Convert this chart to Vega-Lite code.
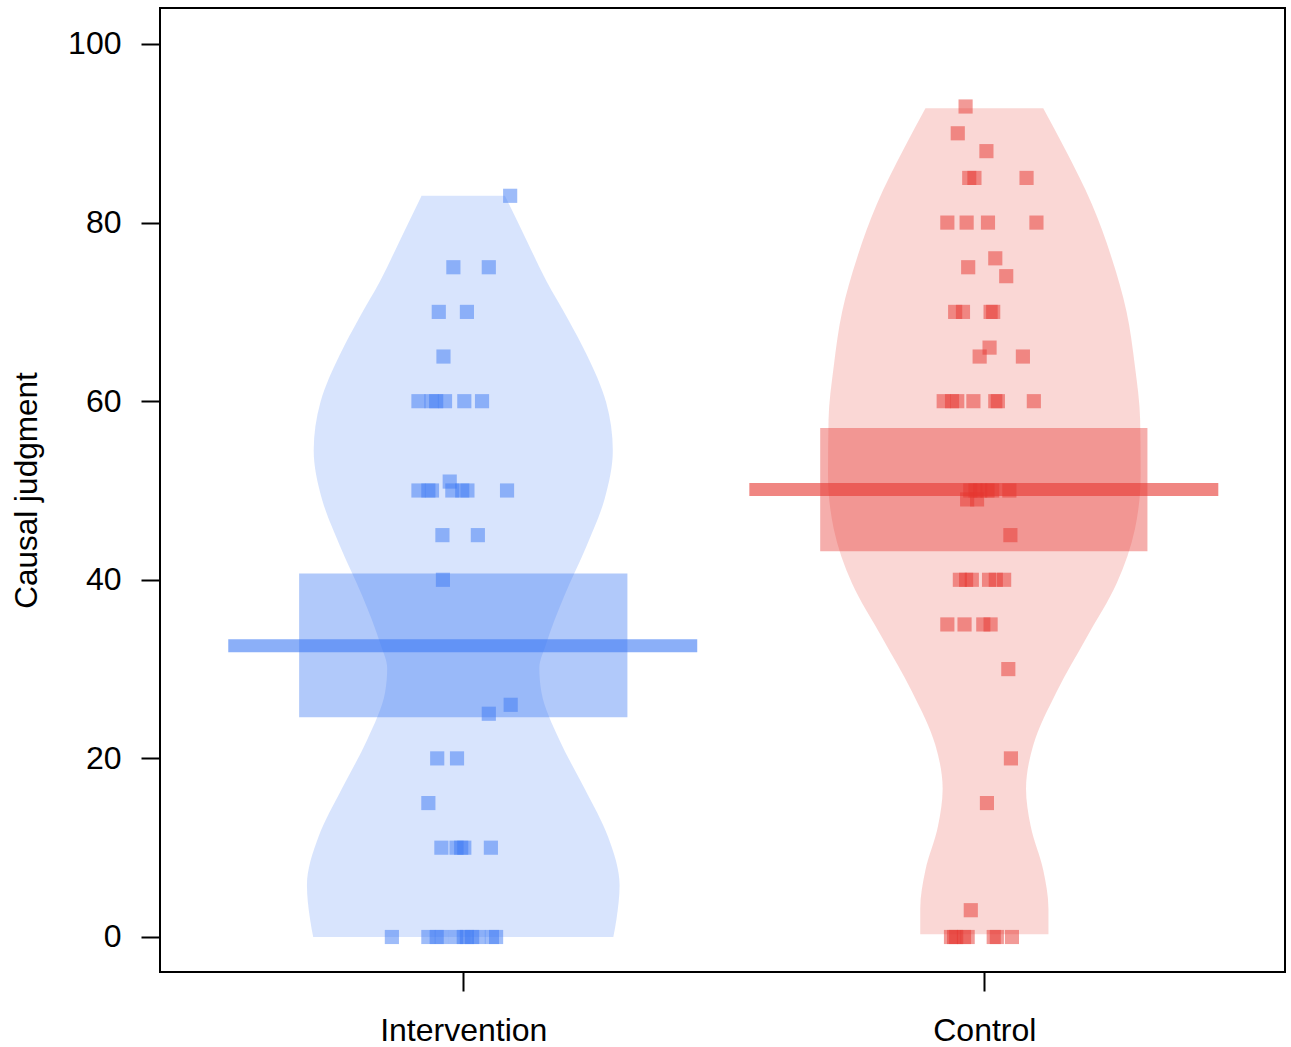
{
  "$schema": "https://vega.github.io/schema/vega-lite/v6.json",
  "width": 1125,
  "height": 964,
  "autosize": {"type": "none"},
  "padding": {"left": 160, "top": 8, "right": 6, "bottom": 75},
  "background": "white",
  "config": {
    "view": {"stroke": "black", "strokeWidth": 2},
    "axis": {
      "labelFont": "Liberation Sans",
      "titleFont": "Liberation Sans",
      "labelFontSize": 32,
      "titleFontSize": 31.5,
      "labelColor": "black",
      "titleColor": "black",
      "titleFontWeight": "normal",
      "grid": false,
      "domain": false,
      "tickColor": "black",
      "tickWidth": 2,
      "tickSize": 19
    }
  },
  "datasets": {
    "violin": [
      {"group": "Intervention", "y": 0, "xl": 0.712, "xr": 1.288},
      {"group": "Intervention", "y": 2, "xl": 0.706, "xr": 1.294},
      {"group": "Intervention", "y": 5.8, "xl": 0.700, "xr": 1.300},
      {"group": "Intervention", "y": 11.2, "xl": 0.722, "xr": 1.278},
      {"group": "Intervention", "y": 16.6, "xl": 0.767, "xr": 1.233},
      {"group": "Intervention", "y": 22, "xl": 0.815, "xr": 1.185},
      {"group": "Intervention", "y": 27.4, "xl": 0.850, "xr": 1.150},
      {"group": "Intervention", "y": 30.1, "xl": 0.854, "xr": 1.146},
      {"group": "Intervention", "y": 32.8, "xl": 0.841, "xr": 1.159},
      {"group": "Intervention", "y": 38.2, "xl": 0.806, "xr": 1.194},
      {"group": "Intervention", "y": 43.7, "xl": 0.764, "xr": 1.236},
      {"group": "Intervention", "y": 49, "xl": 0.729, "xr": 1.271},
      {"group": "Intervention", "y": 54.5, "xl": 0.713, "xr": 1.287},
      {"group": "Intervention", "y": 59.9, "xl": 0.726, "xr": 1.274},
      {"group": "Intervention", "y": 65.3, "xl": 0.764, "xr": 1.236},
      {"group": "Intervention", "y": 69.3, "xl": 0.800, "xr": 1.200},
      {"group": "Intervention", "y": 73.4, "xl": 0.840, "xr": 1.160},
      {"group": "Intervention", "y": 78.2, "xl": 0.880, "xr": 1.120},
      {"group": "Intervention", "y": 83, "xl": 0.920, "xr": 1.080},
      {"group": "Control", "y": 0.3, "xl": 1.877, "xr": 2.123},
      {"group": "Control", "y": 3.2, "xl": 1.877, "xr": 2.123},
      {"group": "Control", "y": 7.5, "xl": 1.887, "xr": 2.113},
      {"group": "Control", "y": 12.4, "xl": 1.911, "xr": 2.089},
      {"group": "Control", "y": 16.6, "xl": 1.920, "xr": 2.080},
      {"group": "Control", "y": 21.5, "xl": 1.906, "xr": 2.094},
      {"group": "Control", "y": 27.5, "xl": 1.861, "xr": 2.139},
      {"group": "Control", "y": 33.5, "xl": 1.804, "xr": 2.196},
      {"group": "Control", "y": 39.6, "xl": 1.746, "xr": 2.254},
      {"group": "Control", "y": 45.7, "xl": 1.711, "xr": 2.289},
      {"group": "Control", "y": 51.8, "xl": 1.700, "xr": 2.300},
      {"group": "Control", "y": 57.9, "xl": 1.701, "xr": 2.299},
      {"group": "Control", "y": 63.9, "xl": 1.711, "xr": 2.289},
      {"group": "Control", "y": 70, "xl": 1.727, "xr": 2.273},
      {"group": "Control", "y": 76.1, "xl": 1.756, "xr": 2.244},
      {"group": "Control", "y": 82.1, "xl": 1.794, "xr": 2.206},
      {"group": "Control", "y": 88.2, "xl": 1.845, "xr": 2.155},
      {"group": "Control", "y": 92.8, "xl": 1.887, "xr": 2.113}
    ],
    "band": [
      {"group": "Intervention", "xl": 0.685, "xr": 1.315, "lo": 24.6, "hi": 40.7},
      {"group": "Control", "xl": 1.685, "xr": 2.313, "lo": 43.2, "hi": 57.0}
    ],
    "means": [
      {"group": "Intervention", "xl": 0.549, "xr": 1.449, "mean": 32.6},
      {"group": "Control", "xl": 1.549, "xr": 2.449, "mean": 50.1}
    ],
    "points": [
      {"group": "Intervention", "x": 1.090, "value": 83},
      {"group": "Intervention", "x": 0.981, "value": 75},
      {"group": "Intervention", "x": 1.049, "value": 75},
      {"group": "Intervention", "x": 0.953, "value": 70},
      {"group": "Intervention", "x": 1.007, "value": 70},
      {"group": "Intervention", "x": 0.962, "value": 65},
      {"group": "Intervention", "x": 0.914, "value": 60},
      {"group": "Intervention", "x": 0.939, "value": 60},
      {"group": "Intervention", "x": 0.948, "value": 60},
      {"group": "Intervention", "x": 0.965, "value": 60},
      {"group": "Intervention", "x": 1.002, "value": 60},
      {"group": "Intervention", "x": 1.036, "value": 60},
      {"group": "Intervention", "x": 0.974, "value": 51},
      {"group": "Intervention", "x": 0.914, "value": 50},
      {"group": "Intervention", "x": 0.933, "value": 50},
      {"group": "Intervention", "x": 0.940, "value": 50},
      {"group": "Intervention", "x": 0.979, "value": 50},
      {"group": "Intervention", "x": 0.998, "value": 50},
      {"group": "Intervention", "x": 1.008, "value": 50},
      {"group": "Intervention", "x": 1.084, "value": 50},
      {"group": "Intervention", "x": 0.960, "value": 45},
      {"group": "Intervention", "x": 1.028, "value": 45},
      {"group": "Intervention", "x": 0.961, "value": 40},
      {"group": "Intervention", "x": 1.091, "value": 26},
      {"group": "Intervention", "x": 1.049, "value": 25},
      {"group": "Intervention", "x": 0.950, "value": 20},
      {"group": "Intervention", "x": 0.988, "value": 20},
      {"group": "Intervention", "x": 0.933, "value": 15},
      {"group": "Intervention", "x": 0.958, "value": 10},
      {"group": "Intervention", "x": 0.987, "value": 10},
      {"group": "Intervention", "x": 0.996, "value": 10},
      {"group": "Intervention", "x": 1.002, "value": 10},
      {"group": "Intervention", "x": 1.053, "value": 10},
      {"group": "Intervention", "x": 0.863, "value": 0},
      {"group": "Intervention", "x": 0.933, "value": 0},
      {"group": "Intervention", "x": 0.949, "value": 0},
      {"group": "Intervention", "x": 0.959, "value": 0},
      {"group": "Intervention", "x": 0.986, "value": 0},
      {"group": "Intervention", "x": 1.001, "value": 0},
      {"group": "Intervention", "x": 1.007, "value": 0},
      {"group": "Intervention", "x": 1.017, "value": 0},
      {"group": "Intervention", "x": 1.029, "value": 0},
      {"group": "Intervention", "x": 1.055, "value": 0},
      {"group": "Intervention", "x": 1.063, "value": 0},
      {"group": "Control", "x": 1.964, "value": 93},
      {"group": "Control", "x": 1.949, "value": 90},
      {"group": "Control", "x": 2.004, "value": 88},
      {"group": "Control", "x": 1.971, "value": 85},
      {"group": "Control", "x": 1.981, "value": 85},
      {"group": "Control", "x": 2.081, "value": 85},
      {"group": "Control", "x": 1.929, "value": 80},
      {"group": "Control", "x": 1.966, "value": 80},
      {"group": "Control", "x": 2.007, "value": 80},
      {"group": "Control", "x": 2.100, "value": 80},
      {"group": "Control", "x": 2.021, "value": 76},
      {"group": "Control", "x": 1.969, "value": 75},
      {"group": "Control", "x": 2.042, "value": 74},
      {"group": "Control", "x": 1.944, "value": 70},
      {"group": "Control", "x": 1.959, "value": 70},
      {"group": "Control", "x": 2.012, "value": 70},
      {"group": "Control", "x": 2.017, "value": 70},
      {"group": "Control", "x": 2.010, "value": 66},
      {"group": "Control", "x": 1.991, "value": 65},
      {"group": "Control", "x": 2.074, "value": 65},
      {"group": "Control", "x": 1.922, "value": 60},
      {"group": "Control", "x": 1.938, "value": 60},
      {"group": "Control", "x": 1.948, "value": 60},
      {"group": "Control", "x": 1.979, "value": 60},
      {"group": "Control", "x": 2.021, "value": 60},
      {"group": "Control", "x": 2.026, "value": 60},
      {"group": "Control", "x": 2.095, "value": 60},
      {"group": "Control", "x": 1.973, "value": 50},
      {"group": "Control", "x": 1.983, "value": 50},
      {"group": "Control", "x": 1.992, "value": 50},
      {"group": "Control", "x": 2.006, "value": 50},
      {"group": "Control", "x": 2.015, "value": 50},
      {"group": "Control", "x": 2.048, "value": 50},
      {"group": "Control", "x": 1.967, "value": 49},
      {"group": "Control", "x": 1.986, "value": 49},
      {"group": "Control", "x": 2.050, "value": 45},
      {"group": "Control", "x": 1.953, "value": 40},
      {"group": "Control", "x": 1.965, "value": 40},
      {"group": "Control", "x": 1.976, "value": 40},
      {"group": "Control", "x": 2.009, "value": 40},
      {"group": "Control", "x": 2.022, "value": 40},
      {"group": "Control", "x": 2.038, "value": 40},
      {"group": "Control", "x": 1.929, "value": 35},
      {"group": "Control", "x": 1.962, "value": 35},
      {"group": "Control", "x": 1.998, "value": 35},
      {"group": "Control", "x": 2.012, "value": 35},
      {"group": "Control", "x": 2.046, "value": 30},
      {"group": "Control", "x": 2.051, "value": 20},
      {"group": "Control", "x": 2.005, "value": 15},
      {"group": "Control", "x": 1.974, "value": 3},
      {"group": "Control", "x": 1.936, "value": 0},
      {"group": "Control", "x": 1.942, "value": 0},
      {"group": "Control", "x": 1.946, "value": 0},
      {"group": "Control", "x": 1.961, "value": 0},
      {"group": "Control", "x": 1.968, "value": 0},
      {"group": "Control", "x": 2.018, "value": 0},
      {"group": "Control", "x": 2.024, "value": 0},
      {"group": "Control", "x": 2.053, "value": 0}
    ]
  },
  "encoding": {
    "color": {
      "field": "group",
      "type": "nominal",
      "scale": {"domain": ["Intervention", "Control"], "range": ["#3D79F3", "#E6352F"]},
      "legend": null
    }
  },
  "layer": [
    {
      "data": {"name": "violin"},
      "mark": {"type": "area", "orient": "horizontal", "interpolate": "monotone", "opacity": 0.2},
      "encoding": {
        "y": {
          "field": "y", "type": "quantitative",
          "scale": {"domain": [-3.92, 104.03], "nice": false, "zero": false},
          "axis": {"values": [0, 20, 40, 60, 80, 100], "title": "Causal judgment", "labelPadding": 20, "titlePadding": 24}
        },
        "x": {
          "field": "xl", "type": "quantitative",
          "scale": {"domain": [0.418, 2.577], "nice": false, "zero": false},
          "axis": {"values": [1, 2], "labelExpr": "datum.value == 1 ? 'Intervention' : 'Control'", "title": null, "labelPadding": 24}
        },
        "x2": {"field": "xr"},
        "detail": {"field": "group"}
      }
    },
    {
      "data": {"name": "band"},
      "mark": {"type": "rect", "opacity": 0.4},
      "encoding": {
        "x": {"field": "xl", "type": "quantitative"},
        "x2": {"field": "xr"},
        "y": {"field": "lo", "type": "quantitative"},
        "y2": {"field": "hi"}
      }
    },
    {
      "data": {"name": "points"},
      "mark": {"type": "point", "shape": "square", "filled": true, "size": 200, "opacity": 0.5, "strokeWidth": 0},
      "encoding": {
        "x": {"field": "x", "type": "quantitative"},
        "y": {"field": "value", "type": "quantitative"}
      }
    },
    {
      "data": {"name": "means"},
      "mark": {"type": "rule", "strokeWidth": 13, "opacity": 0.6},
      "encoding": {
        "x": {"field": "xl", "type": "quantitative"},
        "x2": {"field": "xr"},
        "y": {"field": "mean", "type": "quantitative"}
      }
    }
  ]
}
